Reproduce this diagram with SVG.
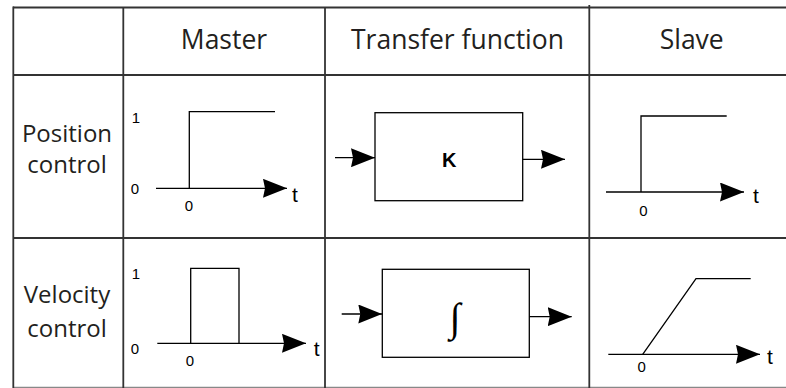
<svg xmlns="http://www.w3.org/2000/svg" width="786" height="388" viewBox="0 0 786 388">
<defs>
<marker id="ah" viewBox="0 0 24 19" refX="24" refY="9.5" markerWidth="24" markerHeight="19" orient="auto" markerUnits="userSpaceOnUse">
<path d="M0,0 L24,9.5 L0,19 L2,9.5 Z" fill="#000"/>
</marker>
<style>
.grid{stroke:#333;stroke-width:1.8;fill:none}
.hd{font-family:"Open Sans","Noto Sans",sans-serif;font-size:26.5px;fill:#231f20;text-anchor:middle}
.rl{font-family:"Open Sans","Noto Sans",sans-serif;font-size:24px;fill:#231f20;text-anchor:middle}
.ln{stroke:#000;stroke-width:1.3;fill:none}
.ax{stroke:#000;stroke-width:1.3;fill:none;marker-end:url(#ah)}
.sm{font-family:"Liberation Sans",Arial,sans-serif;font-size:15px;fill:#000;text-anchor:middle}
.tt{font-family:"Liberation Sans",Arial,sans-serif;font-size:21px;fill:#000;text-anchor:middle}
.kk{font-family:"Liberation Sans",Arial,sans-serif;font-size:20px;font-weight:bold;fill:#000;text-anchor:middle}
.box{stroke:#000;stroke-width:1.3;fill:#fff}
</style>
</defs>
<g id="table">
<line class="grid" x1="13" y1="7.5" x2="786" y2="7.5"/>
<line class="grid" x1="13" y1="75" x2="786" y2="75"/>
<line class="grid" x1="13" y1="238" x2="786" y2="238"/>
<line x1="13" y1="387.5" x2="786" y2="387.5" stroke="#888" stroke-width="1.5"/>
<line class="grid" x1="13.3" y1="6.6" x2="13.3" y2="388"/>
<line class="grid" x1="123.3" y1="7.5" x2="123.3" y2="388"/>
<line class="grid" x1="325" y1="7.5" x2="325" y2="388"/>
<line class="grid" x1="589.3" y1="5" x2="589.3" y2="388"/>
</g>
<g id="headers">
<text class="hd" x="224" y="49.3">Master</text>
<text class="hd" x="457.5" y="49.3">Transfer function</text>
<text class="hd" x="691.7" y="49.3">Slave</text>
</g>
<g id="row-labels">
<text class="rl" x="67" y="141.7">Position</text>
<text class="rl" x="67" y="173.3">control</text>
<text class="rl" x="67" y="303.3">Velocity</text>
<text class="rl" x="67" y="336.7">control</text>
</g>
<g id="master-position">
<polyline class="ln" points="189.3,188.3 189.3,111.7 275,111.7"/>
<line class="ax" x1="156" y1="188.3" x2="287" y2="188.3"/>
<text class="sm" x="136" y="122.5">1</text>
<text class="sm" x="135" y="194">0</text>
<text class="sm" x="189" y="210.5">0</text>
<text class="tt" x="295" y="201.5">t</text>
</g>
<g id="tf-position">
<rect class="box" x="375" y="112.7" width="147.7" height="88"/>
<text class="kk" x="449.3" y="166.5">K</text>
</g>
<g id="slave-position">
<polyline class="ln" points="641,192 641,116 726.7,116"/>
<line class="ax" x1="606" y1="192" x2="744" y2="192"/>
<text class="sm" x="643.3" y="216">0</text>
<text class="tt" x="756" y="203.3">t</text>
</g>
<g id="master-velocity">
<polyline class="ln" points="190.7,343.3 190.7,268.3 239,268.3 239,343.3"/>
<line class="ax" x1="157.3" y1="343.3" x2="306" y2="343.3"/>
<text class="sm" x="136" y="278.5">1</text>
<text class="sm" x="135" y="353.5">0</text>
<text class="sm" x="190" y="365.5">0</text>
<text class="tt" x="316.7" y="355.5">t</text>
</g>
<g id="tf-velocity">
<rect class="box" x="382.3" y="269.3" width="147" height="88"/>
<text x="455" y="331" font-family="Liberation Serif, serif" font-size="40" text-anchor="middle" fill="#000">∫</text>
</g>
<g id="slave-velocity">
<polyline class="ln" points="642.7,354.3 696,278.7 750.7,278.7" stroke-width="1.1"/>
<line class="ax" x1="608.3" y1="354.3" x2="760" y2="354.3"/>
<text class="sm" x="641.7" y="372">0</text>
<text class="tt" x="770" y="363.5">t</text>
</g>
<g id="connectors">
<line class="ax" x1="335" y1="157.7" x2="375" y2="157.7"/>
<line class="ax" x1="522.7" y1="159.3" x2="565" y2="159.3"/>
<line class="ax" x1="341.7" y1="314" x2="382.3" y2="314"/>
<line class="ax" x1="529.3" y1="316.7" x2="571.7" y2="316.7"/>
</g>
</svg>
